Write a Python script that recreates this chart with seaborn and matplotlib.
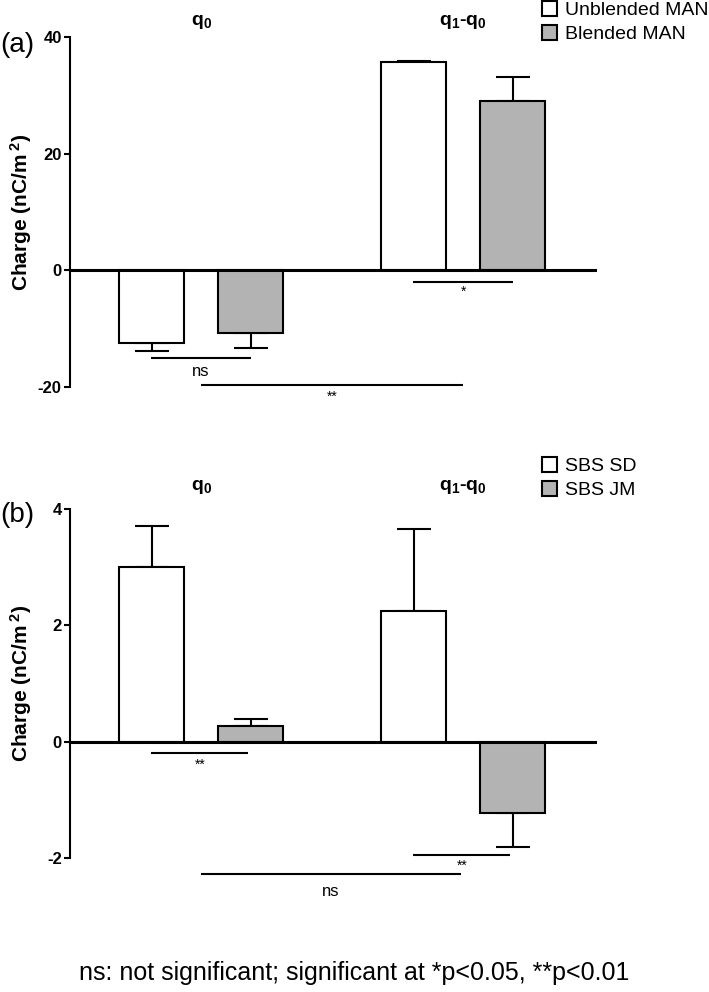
import numpy as np
import pandas as pd
import matplotlib
matplotlib.use("Agg")
import matplotlib.pyplot as plt
import seaborn as sns
from matplotlib.patches import Patch

# panel (a)
measures = ["q0", "q1-q0"]
samples_a = ["Unblended MAN", "Blended MAN"]
means_a = {"Unblended MAN": [-12.5, 35.7], "Blended MAN": [-10.8, 29.1]}
errs_a = {"Unblended MAN": [1.3, 0.2], "Blended MAN": [2.5, 4.0]}
ticks_a = [-20, 0, 20, 40]

# panel (b)
samples_b = ["SBS SD", "SBS JM"]
means_b = {"SBS SD": [3.0, 2.25], "SBS JM": [0.27, -1.23]}
errs_b = {"SBS SD": [0.70, 1.41], "SBS JM": [0.12, 0.58]}
ticks_b = [-2, 0, 2, 4]

# significance brackets: (x0, x1, y, text y, label)
sig_a = [(-0.19, 0.19, -15.0, -17.4, "ns"),
         (0.0, 1.0, -19.6, -21.6, "**"),
         (0.81, 1.19, -2.0, -3.7, "*")]
sig_b = [(-0.19, 0.18, -0.19, -0.40, "**"),
         (0.81, 1.18, -1.94, -2.14, "**"),
         (0.0, 0.99, -2.28, -2.58, "ns")]

group_labels = [r"q$_0$", r"q$_1$-q$_0$"]
colors = ["white", "#b3b3b3"]

sns.set_style("white")
plt.rcParams["font.family"] = ["Liberation Sans", "DejaVu Sans"]
plt.rcParams["mathtext.default"] = "regular"
for k in ["text.color", "axes.labelcolor", "xtick.color", "ytick.color"]:
    plt.rcParams[k] = "black"

fig = plt.figure(figsize=(7.09, 9.92), dpi=100)
ax_a = fig.add_axes([70 / 709, 1 - 387 / 992, 527 / 709, 350 / 992])
ax_b = fig.add_axes([70 / 709, 1 - 858 / 992, 527 / 709, 349 / 992])


def draw_panel(ax, samples, means, errs, ticks, sigs, ylim, label_y, tag, tag_y, leg_y):
    rows = []
    for s in samples:
        for m, v in zip(measures, means[s]):
            rows.append({"measure": m, "sample": s, "charge": v})
    df = pd.DataFrame(rows)

    sns.barplot(data=df, x="measure", y="charge", hue="sample",
                order=measures, hue_order=samples, palette=colors,
                edgecolor="black", linewidth=1.5, width=0.756, gap=0.344,
                errorbar=None, legend=False, saturation=1, ax=ax, zorder=3)

    # one-sided error bars, drawn from the bar positions
    for cont, s in zip(ax.containers, samples):
        for bar, v, e in zip(cont, means[s], errs[s]):
            xc = bar.get_x() + bar.get_width() / 2
            lo, hi = (0, e) if v >= 0 else (e, 0)
            ax.errorbar(xc, v, yerr=[[lo], [hi]], fmt="none", ecolor="black",
                        elinewidth=1.5, capsize=12, capthick=1.5, zorder=2)

    ax.axhline(0, color="black", lw=2.2, zorder=4)
    ax.set_xlim(-0.5, 1.51)
    ax.set_ylim(*ylim)
    ax.set_yticks(ticks)
    ax.set_yticklabels([str(t) for t in ticks], fontweight="bold", fontsize=12)
    ax.set_xticks([])
    ax.set_xlabel("")
    ax.set_ylabel("Charge (nC/m$\\,^2$)", fontweight="bold", fontsize=15)
    ax.yaxis.set_label_coords(-0.068, 0.5)
    for sp in ["top", "right", "bottom"]:
        ax.spines[sp].set_visible(False)
    ax.spines["left"].set_linewidth(1.5)
    ax.spines["left"].set_color("black")
    ax.tick_params(axis="y", direction="out", length=4, width=1.5, pad=2,
                   left=True, colors="black")

    for i, g in enumerate(group_labels):
        ax.text(i, label_y, g, transform=ax.get_xaxis_transform(),
                ha="center", va="center", fontsize=14, fontweight="bold")

    for x0, x1, y, ty, lab in sigs:
        ax.plot([x0, x1], [y, y], color="black", lw=1.5, clip_on=False,
                solid_capstyle="butt")
        ax.text((x0 + x1) / 2, ty, lab, ha="center", va="center",
                fontsize=12 if lab == "ns" else 10, clip_on=False)

    fig.text(0.0, tag_y, tag, fontsize=20, va="center", ha="left")

    handles = [Patch(facecolor=c, edgecolor="black", linewidth=1.5) for c in colors]
    fig.legend(handles, samples, loc="upper left",
               bbox_to_anchor=(542 / 709, leg_y), frameon=False,
               fontsize=14, handlelength=0.78, handleheight=0.78,
               handletextpad=0.4, labelspacing=0.3, borderpad=0,
               borderaxespad=0)


draw_panel(ax_a, samples_a, means_a, errs_a, ticks_a, sig_a, (-20, 40),
           1.043, "(a)", 1 - 45 / 992, 1 - 1 / 992)
draw_panel(ax_b, samples_b, means_b, errs_b, ticks_b, sig_b, (-2, 4),
           1.063, "(b)", 1 - 515 / 992, 1 - 457 / 992)

fig.text(0.5, 1 - 973 / 992, "ns: not significant; significant at *p<0.05, **p<0.01",
         ha="center", va="center", fontsize=18)

fig.savefig("out.png", dpi=100)
